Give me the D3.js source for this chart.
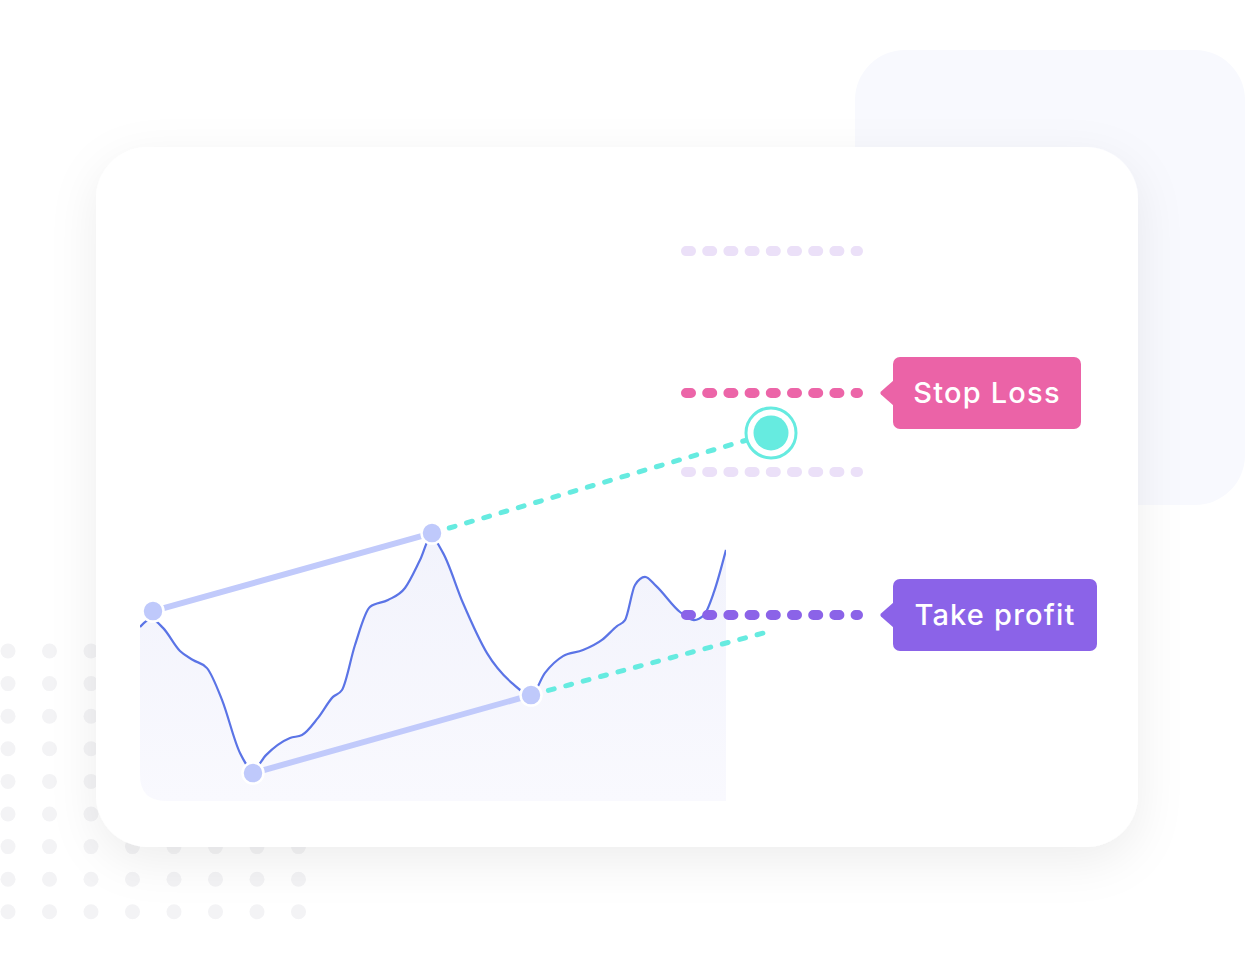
<!DOCTYPE html>
<html><head><meta charset="utf-8">
<script src="https://cdn.jsdelivr.net/npm/d3@7"></script>
<style>html,body{margin:0;padding:0;background:#fff;} svg{display:block;}</style>
</head><body><div id="chart"></div>
<script>
// ---- data ----
const timeValues  = [0, 11, 23, 40, 53, 67, 82, 100, 113, 126, 150, 162, 178, 193, 202, 215, 230, 248, 265, 280, 291, 303, 323, 347, 372, 391, 405, 423, 443, 462, 477, 485, 495, 505, 516, 540, 554, 564, 574, 586];
const priceValues = [58.0, 60.7, 57.7, 50.0, 47.0, 44.3, 33.7, 16.0, 10.3, 15.3, 21.0, 22.0, 27.7, 34.7, 37.0, 52.0, 64.7, 67.0, 71.0, 80.3, 88.0, 82.7, 66.0, 49.3, 39.3, 35.3, 42.7, 48.3, 50.3, 53.7, 58.3, 60.3, 72.0, 74.7, 71.7, 63.0, 60.3, 62.0, 69.7, 83.7];
const pivotNames  = ["H1", "H2", "L1", "L2"];
const pivotTimes  = [13, 292, 113, 391];
const pivotPrices = [63.3, 89.3, 9.3, 35.3];
const targetTime = 631, targetPrice = 122.7;
const lowerProjTime = 627, lowerProjPrice = 56.3;
const levelNames  = ["upper", "Stop Loss", "lower", "Take profit"];
const levelPrices = [183.3, 136.0, 109.7, 62.0];
const levelStart = 546, levelEnd = 718;
const labelTexts = ["Stop Loss", "Take profit"];
const labelLevelIdx = [1, 3];

// ---- layout ----
const W = 1248, H = 970;
const x = d3.scaleLinear().domain([0, 586]).range([140, 726]);
const y = d3.scaleLinear().domain([0, 100]).range([801, 501]);

const svg = d3.select("#chart").append("svg").attr("width", W).attr("height", H);
const defs = svg.append("defs");
const f = defs.append("filter").attr("id", "cardShadow")
  .attr("x", "-20%").attr("y", "-20%").attr("width", "140%").attr("height", "150%");
f.append("feDropShadow").attr("dx", 0).attr("dy", 14).attr("stdDeviation", 24)
  .attr("flood-color", "#000").attr("flood-opacity", 0.07);

const g1 = defs.append("linearGradient").attr("id", "areaGrad")
  .attr("x1", 0).attr("y1", 0).attr("x2", 0).attr("y2", 1);
g1.append("stop").attr("offset", "0%").attr("stop-color", "#f2f3fc");
g1.append("stop").attr("offset", "100%").attr("stop-color", "#f9f9fe");

// background card
svg.append("rect").attr("x", 855).attr("y", 50).attr("width", 390).attr("height", 455)
  .attr("rx", 50).attr("fill", "#f8f9fe");

// dot grid
const dotCols = d3.range(8), dotRows = d3.range(9);
svg.append("g").selectAll("circle")
  .data(dotRows.flatMap(r => dotCols.map(c => [c, r])))
  .join("circle")
  .attr("cx", d => 8 + d[0] * 41.5)
  .attr("cy", d => 651 + d[1] * 32.6)
  .attr("r", 7.5).attr("fill", "#f3f3f5");

// main card
svg.append("rect").attr("x", 96).attr("y", 147).attr("width", 1042).attr("height", 700)
  .attr("rx", 52).attr("fill", "#fff").attr("filter", "url(#cardShadow)");

// clip for plot area (rounded bottom-left)
const x0 = x(0), x1 = x(586), yb = y(0), rr = 26;
defs.append("clipPath").attr("id", "plotClip").append("path")
  .attr("d", `M${x0},300 L${x1},300 L${x1},${yb} L${x0 + rr},${yb} Q${x0},${yb} ${x0},${yb - rr} Z`);

const pts = timeValues.map((t, i) => [t, priceValues[i]]);
const area = d3.area().x(d => x(d[0])).y0(y(0)).y1(d => y(d[1])).curve(d3.curveMonotoneX);
const line = d3.line().x(d => x(d[0])).y(d => y(d[1])).curve(d3.curveMonotoneX);

const plot = svg.append("g").attr("clip-path", "url(#plotClip)");
plot.append("path").datum(pts).attr("d", area).attr("fill", "url(#areaGrad)");
plot.append("path").datum(pts).attr("d", line).attr("fill", "none")
  .attr("stroke", "#5b74e6").attr("stroke-width", 2.2);

// channel lines
const piv = pivotTimes.map((t, i) => ({ name: pivotNames[i], t, p: pivotPrices[i] }));
const channels = [[piv[0], piv[1]], [piv[2], piv[3]]];
svg.append("g").selectAll("line").data(channels).join("line")
  .attr("x1", d => x(d[0].t)).attr("y1", d => y(d[0].p))
  .attr("x2", d => x(d[1].t)).attr("y2", d => y(d[1].p))
  .attr("stroke", "#c1cafb").attr("stroke-width", 6);

// dashed projections
const proj = [[piv[1], { t: targetTime, p: targetPrice }], [piv[3], { t: lowerProjTime, p: lowerProjPrice }]];
svg.append("g").selectAll("line").data(proj).join("line")
  .attr("x1", d => x(d[0].t)).attr("y1", d => y(d[0].p))
  .attr("x2", d => x(d[1].t)).attr("y2", d => y(d[1].p))
  .attr("stroke", "#66ebe0").attr("stroke-width", 5)
  .attr("stroke-linecap", "round").attr("stroke-dasharray", "6 12");

// pivots
svg.append("g").selectAll("circle").data(piv).join("circle")
  .attr("cx", d => x(d.t)).attr("cy", d => y(d.p)).attr("r", 10.5)
  .attr("fill", "#bfc9fb").attr("stroke", "#fff").attr("stroke-width", 2.5);

// level lines
const levelColors = ["#ebe0f8", "#ec65a8", "#ebe0f8", "#8b63e8"];
svg.append("g").selectAll("line").data(levelPrices).join("line")
  .attr("x1", x(levelStart)).attr("x2", x(levelEnd))
  .attr("y1", d => y(d)).attr("y2", d => y(d))
  .attr("stroke", (d, i) => levelColors[i]).attr("stroke-width", 10)
  .attr("stroke-linecap", "round").attr("stroke-dasharray", "5 16.2");

// target
const tg = svg.append("g");
tg.append("circle").attr("cx", x(targetTime)).attr("cy", y(targetPrice)).attr("r", 25)
  .attr("fill", "#fff").attr("stroke", "#66ebe0").attr("stroke-width", 3);
tg.append("circle").attr("cx", x(targetTime)).attr("cy", y(targetPrice)).attr("r", 17.5)
  .attr("fill", "#66ebe0");

// labels
const labelColors = ["#eb63a7", "#8b63e8"];
const labelWidths = [188, 204];
labelTexts.forEach((txt, i) => {
  const cy = y(levelPrices[labelLevelIdx[i]]);
  const bx = 893, bh = 72, bw = labelWidths[i];
  const g = svg.append("g");
  g.append("rect").attr("x", bx).attr("y", cy - bh / 2).attr("width", bw).attr("height", bh)
    .attr("rx", 7).attr("fill", labelColors[i]);
  g.append("path").attr("d", `M${bx + 1},${cy - 13} L${bx - 12},${cy - 1.5} Q${bx - 13.5},${cy} ${bx - 12},${cy + 1.5} L${bx + 1},${cy + 13} Z`)
    .attr("fill", labelColors[i]);
  g.append("text").attr("x", bx + bw / 2).attr("y", cy + 9.5)
    .attr("text-anchor", "middle").attr("fill", "#fff")
    .attr("font-family", "Inter, 'Noto Sans', sans-serif").attr("font-weight", 500)
    .attr("font-size", 29).attr("letter-spacing", 1.2).text(txt);
});
</script></body></html>
